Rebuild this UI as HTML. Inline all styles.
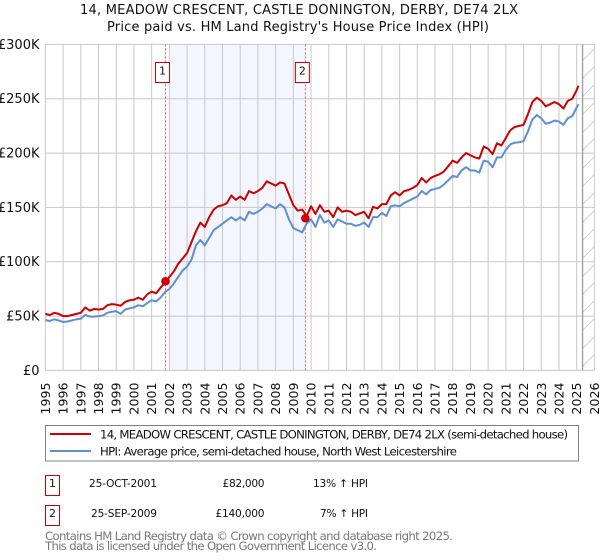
<!DOCTYPE html>
<html lang="en">
<head>
<meta charset="utf-8">
<title>Price paid vs. HPI chart</title>
<style>
html,body{margin:0;padding:0;background:#fff;width:600px;height:560px;overflow:hidden}
svg{display:block;font-family:"DejaVu Sans","Liberation Sans",sans-serif}
</style>
</head>
<body>
<svg id="chart" xmlns="http://www.w3.org/2000/svg" width="600" height="560" viewBox="0 0 600 560">
  <defs>
    <pattern id="hatch" patternUnits="userSpaceOnUse" width="18" height="18" x="579" y="10">
      <path d="M-1 19 L19 -1" stroke="#cfcfcf" stroke-width="1" fill="none"/>
    </pattern>
  </defs>
  <text x="299" y="14" text-anchor="middle" font-size="13" fill="#111" textLength="438" lengthAdjust="spacing">14, MEADOW CRESCENT, CASTLE DONINGTON, DERBY, DE74 2LX</text>
  <text x="298" y="31" text-anchor="middle" font-size="13" fill="#111" textLength="382" lengthAdjust="spacing">Price paid vs. HM Land Registry's House Price Index (HPI)</text>
  <g id="plot"></g>

  <rect x="45.5" y="425.5" width="533" height="35.5" fill="#fff" stroke="#808080" stroke-width="1"/>
  <line x1="50" x2="91" y1="434" y2="434" stroke="#cc0000" stroke-width="2"/>
  <line x1="50" x2="91" y1="451" y2="451" stroke="#5f8fd3" stroke-width="2"/>
  <text x="100" y="438.5" font-size="11.7" fill="#111" textLength="468" lengthAdjust="spacing">14, MEADOW CRESCENT, CASTLE DONINGTON, DERBY, DE74 2LX (semi-detached house)</text>
  <text x="100" y="455.5" font-size="11.7" fill="#111" textLength="357" lengthAdjust="spacing">HPI: Average price, semi-detached house, North West Leicestershire</text>

  <g font-size="10.6" fill="#111">
    <rect x="45.5" y="475.5" width="14" height="20" fill="#fff" stroke="#cc0000" stroke-width="1"/>
    <text x="52.5" y="487" text-anchor="middle" font-size="11">1</text>
    <text x="157" y="487" text-anchor="end" textLength="68" lengthAdjust="spacing">25-OCT-2001</text>
    <text x="264.5" y="487" text-anchor="end" textLength="42" lengthAdjust="spacing">£82,000</text>
    <text x="368" y="487" text-anchor="end" textLength="55" lengthAdjust="spacing">13% ↑ HPI</text>
  </g>
  <g font-size="10.6" fill="#111">
    <rect x="45.5" y="505.5" width="14" height="20" fill="#fff" stroke="#cc0000" stroke-width="1"/>
    <text x="52.5" y="517" text-anchor="middle" font-size="11">2</text>
    <text x="157" y="517" text-anchor="end" textLength="66" lengthAdjust="spacing">25-SEP-2009</text>
    <text x="264.5" y="517" text-anchor="end" textLength="49" lengthAdjust="spacing">£140,000</text>
    <text x="368" y="517" text-anchor="end" textLength="48" lengthAdjust="spacing">7% ↑ HPI</text>
  </g>
  <text x="45" y="540" font-size="11.7" fill="#777" textLength="408" lengthAdjust="spacing">Contains HM Land Registry data © Crown copyright and database right 2025.</text>
  <text x="45" y="550" font-size="11.7" fill="#777" textLength="332" lengthAdjust="spacing">This data is licensed under the Open Government Licence v3.0.</text>
</svg>
<script>
const yearTicks = [1995,1996,1997,1998,1999,2000,2001,2002,2003,2004,2005,2006,2007,2008,2009,2010,2011,2012,2013,2014,2015,2016,2017,2018,2019,2020,2021,2022,2023,2024,2025,2026];
const valueTicks = [0,50,100,150,200,250,300];
const valueTickLabels = ['£0','£50K','£100K','£150K','£200K','£250K','£300K'];
const seriesStartYear = 1995;
const seriesStepYears = 0.25;
const seriesEndYear = 2025.1;
const priceSeries = [
52,51,53,52, 50,50,51,52, 53,58,55,56.5, 56,56.5,60,61, 60.5,59.5,63,64.5, 65,67,65,70,
72.5,71,76,81, 86,91,98,103, 108,118,128,136, 132,141,148,151, 152,154,161,157,
160,157,165,163, 165,168,174,172, 170,173,172,162, 152,147,148,142,
151,144,152,146, 147,141,150,146, 147,146,143,144.5, 146,140,150.5,149,
153,153,161,164, 161,165,166,168, 170.5,177,173,177, 179,180.5,183,188,
193,191,196,200, 198,196,195,206, 204,199,209,207, 214,221,224,225,
226,236,247,251, 248,243,245,247, 245,241,248,250, 258,262
];
const hpiSeries = [
46.3,45.5,47,46, 44.5,45,46,47, 47.5,51,49.5,49.5, 50,50.5,53,54, 54.5,52,56,57, 58,60,59,62,
64.5,63.5,67,72, 75,80,86,92, 95.5,102,115,120, 115,122,129,132, 135,138,141,138,
141,138,146,144, 146,149,153,151, 149,153,150,139, 131,129,127,135,
139,132,143,136, 138,132,139,137, 135,135,133,134, 136,132,141,141,
145,142,151,152, 151,154,156,158, 160,165,162,166, 167,168,171,175,
179,178,184,187, 184,184,182,193, 192,187,196,196, 203,208,209.5,210,
211,220,231,235, 232,227,228,230, 229,226,232,234, 242,245
];
const saleYears = [2001.78, 2009.68];
const saleValues = [82, 140];
const saleLabels = ['1','2'];
const shadeStartYear = 2002;
const forecastStartYear = 2025.33;

const NS = 'http://www.w3.org/2000/svg';
const plot = document.getElementById('plot');
const xOf = function (year) { return 45.4 + (year - 1995) * (594.4 - 45.4) / 31; };
const yOf = function (value) { return 370.4 - value * (370.4 - 44.4) / 300; };

function make(tag, attrs, parent) {
  const el = document.createElementNS(NS, tag);
  Object.keys(attrs).forEach(function (k) { el.setAttribute(k, attrs[k]); });
  (parent || plot).appendChild(el);
  return el;
}
function seriesPoints(values) {
  return values.map(function (v, i) {
    const year = Math.min(seriesStartYear + i * seriesStepYears, seriesEndYear);
    return xOf(year).toFixed(2) + ',' + yOf(v).toFixed(2);
  }).join(' ');
}

const shade = make('rect', {x: xOf(shadeStartYear), y: yOf(300), width: xOf(saleYears[1]) - xOf(shadeStartYear), height: yOf(0) - yOf(300), fill: '#f3f6fe'});



const hatch = make('rect', {x: xOf(forecastStartYear), y: yOf(300), width: xOf(2026) - xOf(forecastStartYear), height: yOf(0) - yOf(300), fill: 'url(#hatch)'});



valueTicks.forEach(function (v, i) {
  const line = make('line', {x1: xOf(1995), x2: xOf(2026), y1: yOf(v), y2: yOf(v), stroke: '#c8c8c8', 'stroke-width': 1});
  
  
  const label = make('text', {x: 39.5, y: yOf(v) + 4.5, 'text-anchor': 'end', 'font-size': 13, fill: '#111'});
  
  
  label.textContent = valueTickLabels[i];
});
yearTicks.forEach(function (year) {
  const line = make('line', {x1: xOf(year), x2: xOf(year), y1: yOf(300), y2: yOf(0), stroke: '#c8c8c8', 'stroke-width': 1});
  
  
  const lx = xOf(year) + 4.5;
  const label = make('text', {x: lx, y: 382.5, 'text-anchor': 'end', 'font-size': 12.6, fill: '#111', transform: 'rotate(-90 ' + lx + ' 382.5)'});
  
  
  label.textContent = year;
});

const edge = make('line', {x1: xOf(forecastStartYear), x2: xOf(forecastStartYear), y1: yOf(300), y2: yOf(0), stroke: '#a0a0a0', 'stroke-width': 1.4});



saleYears.forEach(function (year) {
  const dash = make('line', {x1: xOf(year), x2: xOf(year), y1: yOf(300), y2: yOf(0), stroke: '#e8606e', 'stroke-width': 1, 'stroke-dasharray': '2 2'});
  
  
});

const hpiLine = make('polyline', {points: seriesPoints(hpiSeries), fill: 'none', stroke: '#5f8fd3', 'stroke-width': 2, 'stroke-linejoin': 'round'});



const priceLine = make('polyline', {points: seriesPoints(priceSeries), fill: 'none', stroke: '#cc0000', 'stroke-width': 2, 'stroke-linejoin': 'round'});



saleYears.forEach(function (year, i) {
  const dot = make('circle', {cx: xOf(year), cy: yOf(saleValues[i]), r: 4.3, fill: '#cc0000'});
  
  
  const box = make('rect', {x: xOf(year) - 10, y: 62.5, width: 14, height: 20, fill: '#fff', stroke: '#cc0000', 'stroke-width': 1});
  
  
  const num = make('text', {x: xOf(year) - 3, y: 74.5, 'text-anchor': 'middle', 'font-size': 11, fill: '#111'});
  
  
  num.textContent = saleLabels[i];
});
</script>
</body>
</html>
